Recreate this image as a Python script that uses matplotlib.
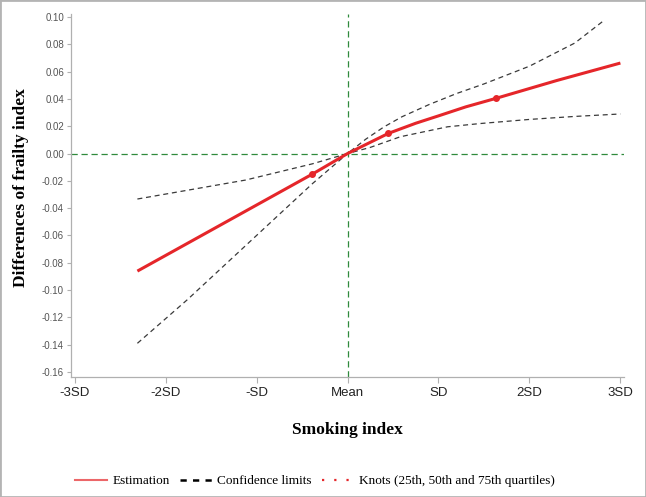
import matplotlib
matplotlib.use("Agg")
import matplotlib.pyplot as plt
from matplotlib.lines import Line2D
from matplotlib.patches import Rectangle

# x in SD units from the mean (0 = Mean)
est_x = [-2.31, -0.385, 0.0, 0.45, 0.75, 1.0, 1.3, 1.63, 2.3, 3.0]
est_y = [-0.0861, -0.0150, 0.0, 0.0148, 0.0222, 0.0276, 0.0342, 0.0404, 0.0535, 0.0663]

upper_x = [-2.31, -1.12, -0.385, 0.0, 0.2, 0.4, 0.6, 0.9, 1.2, 1.5, 2.0, 2.5, 2.8]
upper_y = [-0.0333, -0.0194, -0.0075, 0.0, 0.0105, 0.0195, 0.0270, 0.0360, 0.0440, 0.0510, 0.0640, 0.0810, 0.0965]

lower_x = [-2.31, -1.76, -1.0, -0.385, 0.0, 0.25, 0.58, 1.1, 1.46, 2.0, 2.5, 3.0]
lower_y = [-0.139, -0.107, -0.060, -0.022, 0.0, 0.0045, 0.0123, 0.0196, 0.022, 0.025, 0.0272, 0.029]

knot_x = [-0.385, 0.45, 1.63]
knot_y = [-0.0150, 0.0148, 0.0404]

xticks = [-3, -2, -1, 0, 1, 2, 3]
xticklabels = ['-3SD', '-2SD', '-SD', 'Mean', 'SD', '2SD', '3SD']
yticks = [0.10, 0.08, 0.06, 0.04, 0.02, 0.00, -0.02, -0.04, -0.06, -0.08,
          -0.10, -0.12, -0.14, -0.16]

red = '#e5262a'
green = '#2f8a3c'
grey = '#b0b0b0'

fig = plt.figure(figsize=(6.46, 4.97), dpi=100)
ax = fig.add_axes([0.1099, 0.2414, 0.966 - 0.1099, 0.9712 - 0.2414])

ax.axhline(0, color=green, lw=0.9, dashes=(5, 3), zorder=1)
ax.axvline(0, color=green, lw=0.9, dashes=(5, 3), zorder=1)

ax.plot(upper_x, upper_y, color='#3a3a3a', lw=0.9, dashes=(4, 3), zorder=2)
ax.plot(lower_x, lower_y, color='#3a3a3a', lw=0.9, dashes=(4, 3), zorder=2)
ax.plot(est_x, est_y, color=red, lw=2.2, solid_capstyle='butt', zorder=3)
ax.plot(knot_x, knot_y, 'o', color=red, ms=4, zorder=4)

ax.set_xlim(-3.04, 3.04)
ax.set_ylim(-0.1637, 0.102)

ax.set_xticks(xticks)
ax.set_xticklabels(xticklabels, fontsize=9.5, family='Liberation Sans', color='#222222')
ax.set_yticks(yticks)
ax.set_yticklabels(['%.2f' % v for v in yticks], fontsize=7, family='Liberation Sans', color='#555555')
ax.tick_params(axis='x', length=4, width=0.8, color=grey, pad=3)
ax.tick_params(axis='y', length=3, width=0.8, color=grey, pad=2)

for s in ['top', 'right']:
    ax.spines[s].set_visible(False)
for s in ['left', 'bottom']:
    ax.spines[s].set_color(grey)
    ax.spines[s].set_linewidth(0.9)

fig.text(21.5 / 646, 1 - 187.5 / 497, 'Differences of frailty index', rotation=90,
         ha='center', va='center', fontsize=12.5, fontweight='bold', family='Liberation Serif')
fig.text(347 / 646, 1 - 430 / 497, 'Smoking index', ha='center', va='center',
         fontsize=12.5, fontweight='bold', family='Liberation Serif')

handles = [
    Line2D([], [], color=red, lw=1.5, alpha=0.7),
    Line2D([], [], color='black', lw=1.8, dashes=(2.5, 2.5)),
    Line2D([], [], color=red, lw=1.6, dashes=(1, 4.5)),
]
labels = ['Estimation', 'Confidence limits', 'Knots (25th, 50th and 75th quartiles)']
fig.legend(handles, labels, loc='center', bbox_to_anchor=(0.488, 0.032), ncol=3,
           frameon=False, prop={'family': 'Liberation Serif', 'size': 9.5},
           handlelength=2.4, handletextpad=0.4, columnspacing=0.8)

fig.patches.append(Rectangle((0, 0), 1, 1, transform=fig.transFigure, fill=False,
                             edgecolor='#b4b4b4', lw=2))

fig.savefig('out.png', dpi=100)
